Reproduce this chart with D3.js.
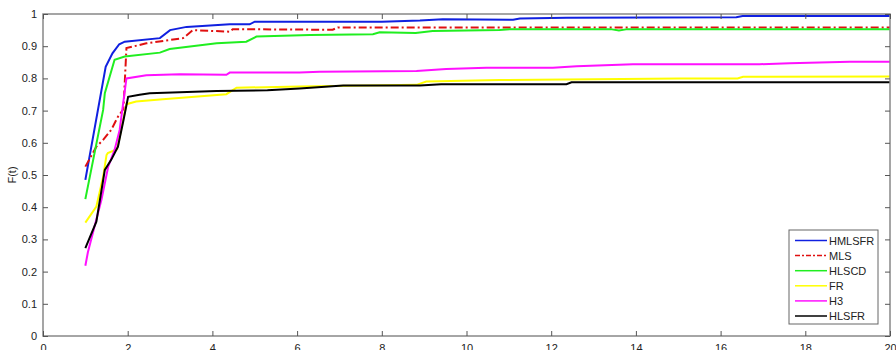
<!DOCTYPE html>
<html>
<head>
<meta charset="utf-8">
<script src="https://cdn.jsdelivr.net/npm/d3@7"></script>
<style>
  body { margin: 0; background: #fff; }
  text { font-family: "Liberation Sans", Arial, sans-serif; }
</style>
</head>
<body>
<div id="chart"></div>
<script>
// tick values
const xTicks = [0, 2, 4, 6, 8, 10, 12, 14, 16, 18, 20];
const yTicks = [0, 0.1, 0.2, 0.3, 0.4, 0.5, 0.6, 0.7, 0.8, 0.9, 1];

// series, [t, F(t)]
const hmlsfr = [[1, 0.485], [1.48, 0.836], [1.64, 0.878], [1.8, 0.906], [1.93, 0.914], [2.76, 0.925], [3.0, 0.95],
  [3.39, 0.96], [4.41, 0.968], [4.88, 0.968], [5.0, 0.976], [8.0, 0.976], [8.9, 0.98], [9.44, 0.984], [11.1, 0.982],
  [11.26, 0.986], [12.36, 0.988], [16.37, 0.99], [16.52, 0.994], [20, 0.994]];
const mls = [[1, 0.526], [1.26, 0.588], [1.42, 0.609], [1.61, 0.64], [1.77, 0.681], [1.9, 0.705], [1.97, 0.894],
  [2.44, 0.909], [2.99, 0.919], [3.31, 0.925], [3.54, 0.95], [4.41, 0.945], [4.48, 0.953], [6.84, 0.951],
  [6.96, 0.958], [20, 0.958]];
const hlscd = [[1, 0.425], [1.42, 0.702], [1.46, 0.754], [1.69, 0.858], [1.93, 0.868], [2.76, 0.88], [2.99, 0.891],
  [4.1, 0.909], [4.8, 0.914], [5.04, 0.93], [6.3, 0.935], [7.79, 0.937], [7.95, 0.943], [8.8, 0.941], [9.2, 0.947],
  [10.78, 0.95], [11.02, 0.953], [13.4, 0.953], [13.6, 0.949], [13.8, 0.953], [20, 0.953]];
const fr = [[1, 0.352], [1.26, 0.402], [1.42, 0.495], [1.5, 0.562], [1.53, 0.568], [1.75, 0.58], [1.97, 0.72],
  [2.2, 0.728], [2.83, 0.735], [4.33, 0.751], [4.57, 0.771], [6.06, 0.775], [8.82, 0.78], [9.05, 0.79],
  [10.78, 0.795], [15.03, 0.8], [16.4, 0.8], [16.53, 0.805], [20, 0.806]];
const h3 = [[1, 0.218], [1.06, 0.26], [1.38, 0.423], [1.54, 0.526], [1.69, 0.578], [1.81, 0.64], [1.97, 0.8],
  [2.44, 0.81], [3.23, 0.813], [4.33, 0.811], [4.41, 0.818], [6.06, 0.818], [6.53, 0.821], [8.82, 0.823],
  [9.52, 0.829], [10.47, 0.833], [12.04, 0.833], [12.6, 0.838], [13.93, 0.844], [16.92, 0.844], [17.63, 0.847],
  [19.05, 0.852], [20, 0.852]];
const hlsfr = [[1, 0.273], [1.26, 0.355], [1.46, 0.516], [1.61, 0.547], [1.77, 0.588], [1.9, 0.67], [2.01, 0.743],
  [2.28, 0.749], [2.52, 0.754], [3.23, 0.757], [4.1, 0.761], [5.3, 0.763], [6.06, 0.769], [7.09, 0.778],
  [8.9, 0.778], [9.4, 0.782], [12.36, 0.782], [12.48, 0.788], [20, 0.788]];

const seriesNames = ["HMLSFR", "MLS", "HLSCD", "FR", "H3", "HLSFR"];
const seriesData = [hmlsfr, mls, hlscd, fr, h3, hlsfr];
const seriesColors = ["#1020e0", "#e01010", "#20ee20", "#ffff00", "#ff10ff", "#000000"];
const seriesDash = [null, "8,3,2,3", null, null, null, null];

let width = 896,
    height = 350;
let margin = {top: 14, right: 6, bottom: 14, left: 43};

let svg = d3.select("div#chart").append("svg")
  .attr("width", width)
  .attr("height", height);

let x = d3.scaleLinear().domain([0, 20]).range([margin.left, width - margin.right]);
let y = d3.scaleLinear().domain([0, 1]).range([height - margin.bottom, margin.top]);

// lines
let line = d3.line()
  .x(function(d) { return x(d[0]); })
  .y(function(d) { return y(d[1]); });

seriesData.forEach(function(data, i) {
  svg.append("path")
    .datum(data)
    .attr("d", line)
    .attr("fill", "none")
    .attr("stroke", seriesColors[i])
    .attr("stroke-width", 2)
    .attr("stroke-dasharray", seriesDash[i]);
});

// axes box
svg.append("rect")
  .attr("x", x(0))
  .attr("y", y(1))
  .attr("width", x(20) - x(0))
  .attr("height", y(0) - y(1))
  .attr("fill", "none")
  .attr("stroke", "#888")
  .attr("stroke-width", 1.5);

// inward ticks, bottom/top/left/right
let tickLen = 5;
let tickColor = "#555";
svg.append("g").call(d3.axisBottom(x).tickValues(xTicks).tickSize(-tickLen).tickPadding(8).tickFormat(d3.format("d")))
  .attr("transform", "translate(0," + y(0) + ")");
svg.append("g").call(d3.axisTop(x).tickValues(xTicks).tickSize(-tickLen).tickFormat(""))
  .attr("transform", "translate(0," + y(1) + ")");
svg.append("g").call(d3.axisLeft(y).tickValues(yTicks).tickSize(-tickLen).tickPadding(6).tickFormat(function(d) { return d === 0 || d === 1 ? d : d.toFixed(1); }))
  .attr("transform", "translate(" + x(0) + ",0)");
svg.append("g").call(d3.axisRight(y).tickValues(yTicks).tickSize(-tickLen).tickFormat(""))
  .attr("transform", "translate(" + x(20) + ",0)");

svg.selectAll(".domain").remove();
svg.selectAll(".tick line").attr("stroke", tickColor);
svg.selectAll(".tick text")
  .style("font-size", "11px")
  .attr("fill", "#222");

// y label
svg.append("text")
  .attr("transform", "translate(16," + (y(0.5)) + ") rotate(-90)")
  .attr("text-anchor", "middle")
  .style("font-size", "11px")
  .attr("fill", "#222")
  .text("F(t)");

// legend
let legend = svg.append("g").attr("transform", "translate(789,230)");
legend.append("rect")
  .attr("width", 89)
  .attr("height", 94)
  .attr("fill", "#fff")
  .attr("stroke", "#666")
  .attr("stroke-width", 1);

seriesNames.forEach(function(name, i) {
  let ly = 10.5 + i * 15.1;
  legend.append("line")
    .attr("x1", 6)
    .attr("x2", 38)
    .attr("y1", ly)
    .attr("y2", ly)
    .attr("stroke", seriesColors[i])
    .attr("stroke-width", 1.5)
    .attr("stroke-dasharray", seriesDash[i] ? "5,2,2,2" : null);
  legend.append("text")
    .attr("x", 40)
    .attr("y", ly + 4)
    .style("font-size", "11px")
    .attr("fill", "#222")
    .text(name);
});
</script>
</body>
</html>
